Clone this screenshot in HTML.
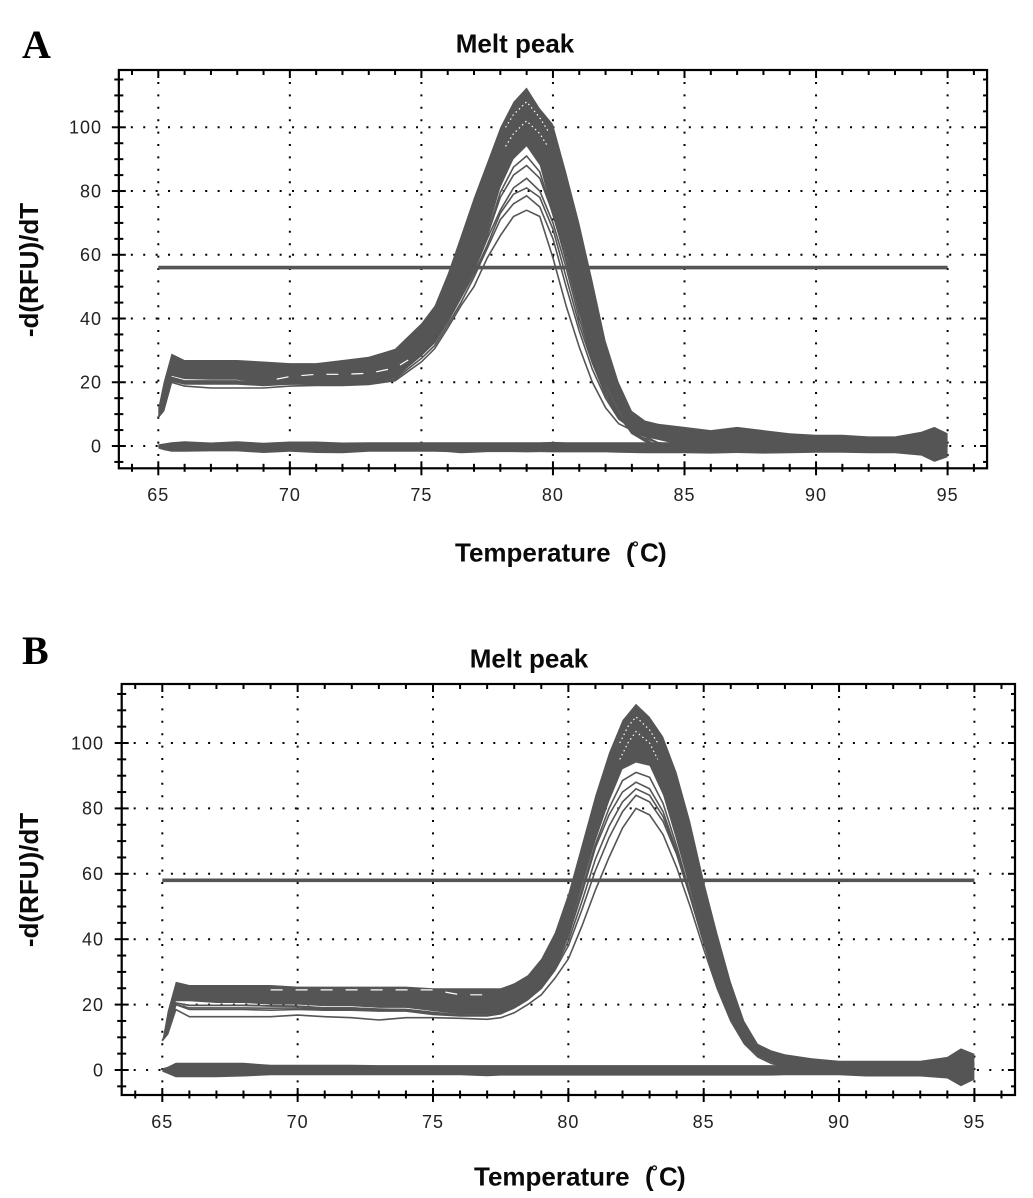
<!DOCTYPE html>
<html lang="en">
<head>
<meta charset="utf-8">
<title>Melt peak charts</title>
<style>
html,body{margin:0;padding:0;background:#fff;}
svg{display:block;}
text{font-family:"Liberation Sans",sans-serif;fill:#111;}
.panel-letter{font-family:"Liberation Serif",serif;font-weight:bold;font-size:40px;fill:#000;}
.axis-title{font-weight:bold;font-size:26px;fill:#0a0a0a;}
.tick-label{font-size:18px;letter-spacing:1px;fill:#222;}
</style>
</head>
<body>
<svg id="chart" xmlns="http://www.w3.org/2000/svg" width="1033" height="1198" viewBox="0 0 1033 1198">
  <rect x="0" y="0" width="1033" height="1198" fill="#fff"/>
  <text class="panel-letter" x="22" y="58">A</text>
  <text class="axis-title" x="515" y="52.5" text-anchor="middle">Melt peak</text>
  <text class="axis-title" transform="translate(38 270) rotate(-90)" text-anchor="middle">-d(RFU)/dT</text>
  <text class="axis-title" y="561.5"><tspan x="455">Temperature</tspan><tspan x="626">(</tspan><tspan x="632" y="553" font-size="17">°</tspan><tspan x="640" y="561.5">C</tspan><tspan x="658">)</tspan></text>
  <text class="panel-letter" x="22" y="664">B</text>
  <text class="axis-title" x="529" y="667.5" text-anchor="middle">Melt peak</text>
  <text class="axis-title" transform="translate(38 880) rotate(-90)" text-anchor="middle">-d(RFU)/dT</text>
  <text class="axis-title" y="1185.5"><tspan x="474">Temperature</tspan><tspan x="645">(</tspan><tspan x="651" y="1177" font-size="17">°</tspan><tspan x="659" y="1185.5">C</tspan><tspan x="677">)</tspan></text>
  <g id="panel-a"></g>
  <g id="panel-b"></g>
</svg>
<script>
// Shared axis tick data
const xTickValues = [64,65,66,67,68,69,70,71,72,73,74,75,76,77,78,79,80,81,82,83,84,85,86,87,88,89,90,91,92,93,94,95,96];
const xTickLabels = [65,70,75,80,85,90,95];
const yTickValues = [-5,0,5,10,15,20,25,30,35,40,45,50,55,60,65,70,75,80,85,90,95,100,105,110,115];
const yTickLabels = [0,20,40,60,80,100];

// Panel A data
const tempsA = [65,65.2,65.5,66,67,68,69,70,71,72,73,74,
  75,75.5,76,76.5,77,77.5,78,78.5,79,79.5,80,80.5,81,81.5,82,82.5,83,83.5,84,
  85,86,87,88,89,90,91,92,93,94,94.5,95];
const outerA = [12,20,29,27,27,27,26.5,26,26,27,28,30.5,
  38.5,44,54,66,78,89,100,108,112.5,106,101,86,70,52,33,20,11,8,7,
  6,5,6,5,4,3.5,3.5,3,3,4.5,6,4];
const innerA = [9,13,22,21,20.8,20.8,19.5,19.5,19,19,19.5,22,
  29.5,34,40,48,56,67,81,90,94,88,72,60,43,29,19,11,4,2.8,1.9,
  0,0,0,0,0,0,0,0,0,0,0,0];
const lineNinetyOneA = [9,12.5,21.5,20.4,20.4,20.4,19.6,19.6,19.4,19.4,20,22,
  29.2,33.8,40,48,56,66.5,79.5,87.5,91,86,72.5,59,42.5,28.5,18.5,10.5,4,2.4,1,
  0,0,0,0,0,0,0,0,0,0,0,0];
const lineEightyEightA = [9,12.5,21.5,20.4,20.4,20.4,19.6,19.6,19.4,19.4,20,22,
  29,33.5,40,48,56,66,78,85,88,84,73,58,42,28,18,10,4,2,0,
  0,0,0,0,0,0,0,0,0,0,0,0];
const upperA = [9,12,21,20,20,20,19.5,19.5,19.5,19.5,20,22,
  28.5,33,39.5,47,55,65,74,81,84,80,70,56,40,27,17,9.5,4,1.5,0,
  0,0,0,0,0,0,0,0,0,0,0,0];
const lineEightyOneA = [9,12,20.8,19.8,19.8,19.8,19.3,19.6,19.5,19.5,19.7,21.5,
  28.5,32.5,39,46.5,54,63,73,79,81,78,68,53,38,26,16,9,5,3,1,
  0,0,0,0,0,0,0,0,0,0,0,0];
const middleA = [9,12,20.5,19.5,19.5,19.5,19,19.5,19.5,19.5,19.5,21,
  27.5,31.5,38,45,53,62,71,76,78.5,75,65,50,36,24,15,8.5,5.5,4,3,
  3,3,2,2,1,1,1,0,0,0,0,0];
const lowA = [9,11,20,18.8,18.2,18.2,18.2,18.8,19,19,19.3,20.5,
  26.4,30.5,37,44,50,59,66,72,74,72,59,44,31,20,12,7,5,4,3,
  3,3,3,3,2,1,1,0,0,0,0,0];
const baseTopA = [0.5,0.8,1.2,1.5,1.1,1.5,1,1.4,1.4,1.1,1.2,1.2,
  1.2,1.2,1.2,1.2,1.2,1.2,1.2,1.2,1.2,1.2,1.3,1.2,1.2,1.2,1.2,1.2,1.2,1.2,1.2,
  1.2,1.2,1.2,1.2,1.2,1.2,1.2,1.2,1.2,1.4,2,1];
const baseBottomA = [-0.8,-1.3,-1.8,-1.8,-1.7,-1.7,-2.2,-1.8,-2.2,-2.3,-1.8,-1.8,
  -1.8,-1.8,-1.9,-2.3,-2.1,-1.9,-1.9,-1.9,-2,-1.9,-2,-2,-2,-2,-2,-2.1,-2.2,-2.3,-2.3,
  -2.3,-2.4,-2.2,-2.4,-2.3,-2.1,-2.1,-2.3,-2.3,-3,-5,-3.5];
const peakTempsA = [78.2,78.5,79,79.5,79.8];
const gapOneA = [100,104,108,103,99];
const gapTwoA = [94,98,102,98,94];
const flatGapTempsA = [69.5,70,71,72,73,74,74.5];
const flatGapA = [21,21.8,22.5,22.5,22.8,24.5,27];
const thresholdA = [56];

// Panel B data
const tempsB = [65,65.2,65.5,66,67,68,69,70,71,72,73,74,75,76,77,
  77.5,78,78.5,79,79.5,80,80.5,81,81.5,82,82.5,83,83.5,84,84.5,85,85.5,86,86.5,87,87.5,88,
  89,90,91,92,93,94,94.5,95];
const outerB = [9,18,27,26,26,26,26,25.5,25.5,25.5,25.5,25.5,25,25,25,
  25,26.5,29,34,42,54,69,84,97,107,112,108,102,91,76,58,42,27,15,8,6,4.8,
  3.6,2.8,2.8,2.8,2.8,4,6.6,5];
const innerB = [9,12,21,21,20.5,20.5,20,20,19.5,19.5,19,19,18,17,17,
  18,20,22,26,32,42,56,70,82,92,94,93,84,70,55,40,26,16,9,5,3,1,
  0,0,0,0,0,0,0,0];
const lineNinetyOneB = [9,12,20.5,19.8,19.8,19.8,19.6,19.5,19,19,18.6,18.5,17.6,16.8,16.8,
  17.9,19.8,21.9,25.8,31.8,41.5,55,69,80,88.5,91,89.5,81.5,68.5,54,39.5,26,16,8.9,4.9,2.9,1,
  0,0,0,0,0,0,0,0];
const lineEightyEightB = [9,12,20.5,19.8,19.8,19.8,19.6,19.5,19,19,18.6,18.5,17.6,16.8,16.8,
  17.8,19.6,21.8,25.6,31.5,41,54,68,78,85,88,86,79,67,53,39,26,16,8.8,4.8,2.8,1,
  0,0,0,0,0,0,0,0];
const lineEightySixB = [9,12,20,19,19,19,18.9,19,18.6,18.6,18.3,18.2,17.3,16.6,16.6,
  17.5,19.3,21.7,25.3,31,39.5,51.5,64.5,74.5,82,86,84,77.5,66.5,53,39,26,16,8.6,4.6,2.6,1,
  0,0,0,0,0,0,0,0];
const upperB = [9,12,20,18.5,18.5,18.5,18.3,18.5,18.3,18.3,18,18,17,16.5,16.5,
  17.2,19,21.5,25,30.5,38,49,61,71,79,84,82,76,66,53,39,26,16,8.5,4.5,2.5,1,
  0,0,0,0,0,0,0,0];
const lowB = [9,11,18.5,16.3,16.3,16.3,16.3,16.8,16.3,16,15.3,16,16,15.8,15.5,
  16,17.5,20,23,28,34,44,55,65,74,80,78,72,62,50,37,25,15,8,4,2,1,
  0,0,0,0,0,0,0,0];
const baseTopB = [0.5,1,2.2,2.2,2.2,2.2,1.6,1.6,1.6,1.6,1.5,1.5,1.5,1.5,1.5,
  1.5,1.5,1.5,1.5,1.5,1.5,1.5,1.5,1.5,1.5,1.5,1.5,1.5,1.5,1.5,1.5,1.5,1.5,1.5,1.5,1.5,1.5,
  1.5,1.5,1.5,1.5,1.5,2,3,2];
const baseBottomB = [-0.5,-1.2,-2.2,-2.2,-2.2,-2,-1.6,-1.6,-1.6,-1.6,-1.6,-1.6,-1.6,-1.6,-1.9,
  -1.7,-1.7,-1.7,-1.7,-1.7,-1.7,-1.7,-1.7,-1.7,-1.7,-1.7,-1.7,-1.7,-1.7,-1.7,-1.7,-1.7,-1.7,-1.7,-1.7,-1.7,-1.6,
  -1.6,-1.6,-2,-2,-2,-2.6,-5,-3];
const peakTempsB = [81.9,82.2,82.5,83,83.3];
const gapOneB = [100,105,108,104,100];
const gapTwoB = [95,100,103.5,100,95];
const flatGapTempsB = [69,70,71,72,73,74,75,76,77];
const flatGapB = [24.5,24.5,24.5,24.5,24.5,24.5,24.5,23,23];
const thresholdB = [58];

const NS = 'http://www.w3.org/2000/svg';
const INK = '#000';
const TRACE = '#555';

function make(tag, attrs, parent) {
  const el = document.createElementNS(NS, tag);
  for (const k in attrs) el.setAttribute(k, attrs[k]);
  parent.appendChild(el);
  return el;
}

function pointsOf(temps, values, x, y) {
  return temps.map((t, i) => x(t).toFixed(1) + ',' + y(values[i]).toFixed(1));
}

function drawPanel(root, p, d) {
  const x = t => p.x65 + (t - 65) * p.xk;
  const y = v => p.y0 - v * p.yk;
  const left = x(63.5), right = x(96.5), top = p.top, bottom = p.bottom;

  // grid
  yTickLabels.forEach(v => {
    const g = make('line', {x1:left + 12, x2:right, y1:y(v), y2:y(v), stroke:INK, 'stroke-width':2, 'stroke-dasharray':'2 10.4'}, root);
    
    
  });
  xTickLabels.forEach(t => {
    const g = make('line', {x1:x(t), x2:x(t), y1:top + 12, y2:bottom, stroke:INK, 'stroke-width':2, 'stroke-dasharray':'2 10.4'}, root);
    
    
  });

  // ticks
  xTickValues.forEach(t => {
    const major = t % 5 === 0;
    const b = make('line', {x1:x(t), x2:x(t), y1:bottom - (major ? 7 : 4.5), y2:bottom + (major ? 7 : 3.5), stroke:INK, 'stroke-width':2}, root);
    
    
    const u = make('line', {x1:x(t), x2:x(t), y1:top, y2:top + (major ? 8 : 5), stroke:INK, 'stroke-width':2}, root);
    
    
  });
  yTickValues.forEach(v => {
    const major = v % 20 === 0;
    const l = make('line', {x1:left - (major ? 7 : 4.5), x2:left + (major ? 7 : 4.5), y1:y(v), y2:y(v), stroke:INK, 'stroke-width':2}, root);
    
    
    const r = make('line', {x1:right - (major ? 7 : 4), x2:right, y1:y(v), y2:y(v), stroke:INK, 'stroke-width':2}, root);
    
    
  });

  // frame
  const frame = make('rect', {x:left, y:top, width:right - left, height:bottom - top, fill:'none', stroke:INK, 'stroke-width':2.2}, root);
  
  

  // tick labels
  xTickLabels.forEach(t => {
    const lab = make('text', {x:x(t), y:p.xLabelY, 'text-anchor':'middle', class:'tick-label'}, root);
    lab.textContent = t;
    
    
  });
  yTickLabels.forEach(v => {
    const lab = make('text', {x:p.yLabelX, y:y(v) + 6.3, 'text-anchor':'end', class:'tick-label'}, root);
    lab.textContent = v;
    
    
  });

  // threshold
  const th = make('line', {x1:x(65), x2:x(95), y1:y(d.threshold[0]), y2:y(d.threshold[0]), stroke:TRACE, 'stroke-width':3.6}, root);
  
  

  // no-template baseline band
  const baseBand = make('polygon', {points:pointsOf(d.temps, d.baseTop, x, y).concat(pointsOf(d.temps, d.baseBottom, x, y).reverse()).join(' '), fill:TRACE}, root);
  
  

  // main melt-curve band
  const band = make('polygon', {points:pointsOf(d.temps, d.outer, x, y).concat(pointsOf(d.temps, d.inner, x, y).reverse()).join(' '), fill:TRACE}, root);
  
  

  // individual outlying traces
  d.lines.forEach((values, i) => {
    const line = make('polyline', {points:pointsOf(d.temps, values, x, y).join(' '), fill:'none', stroke:TRACE, 'stroke-width':1.6}, root);
    
    
  });

  // light speckle between overlapping traces near the peak
  d.gaps.forEach((values, i) => {
    const gap = make('polyline', {points:pointsOf(d.peakTemps, values, x, y).join(' '), fill:'none', stroke:'#fff', 'stroke-width':1.2, 'stroke-dasharray':'1.5 3'}, root);
    
    
  });

  // short light dashes inside the flat part of the band
  const flat = make('polyline', {points:pointsOf(d.flatGapTemps, d.flatGap, x, y).join(' '), fill:'none', stroke:'#fff', 'stroke-width':1.2, 'stroke-dasharray':'12 13'}, root);
  
  
}

drawPanel(document.getElementById('panel-a'),
  {x65:158.3, xk:26.31, y0:446, yk:3.187, top:70, bottom:468.3, xLabelY:501, yLabelX:102},
  {temps:tempsA, outer:outerA, inner:innerA, lines:[lineNinetyOneA, lineEightyEightA, upperA, lineEightyOneA, middleA, lowA], baseTop:baseTopA, baseBottom:baseBottomA,
   peakTemps:peakTempsA, gaps:[gapOneA, gapTwoA], flatGapTemps:flatGapTempsA, flatGap:flatGapA, threshold:thresholdA});

drawPanel(document.getElementById('panel-b'),
  {x65:162.3, xk:27.07, y0:1070, yk:3.27, top:684, bottom:1095, xLabelY:1128, yLabelX:104},
  {temps:tempsB, outer:outerB, inner:innerB, lines:[lineNinetyOneB, lineEightyEightB, lineEightySixB, upperB, lowB], baseTop:baseTopB, baseBottom:baseBottomB,
   peakTemps:peakTempsB, gaps:[gapOneB, gapTwoB], flatGapTemps:flatGapTempsB, flatGap:flatGapB, threshold:thresholdB});
</script>
</body>
</html>
